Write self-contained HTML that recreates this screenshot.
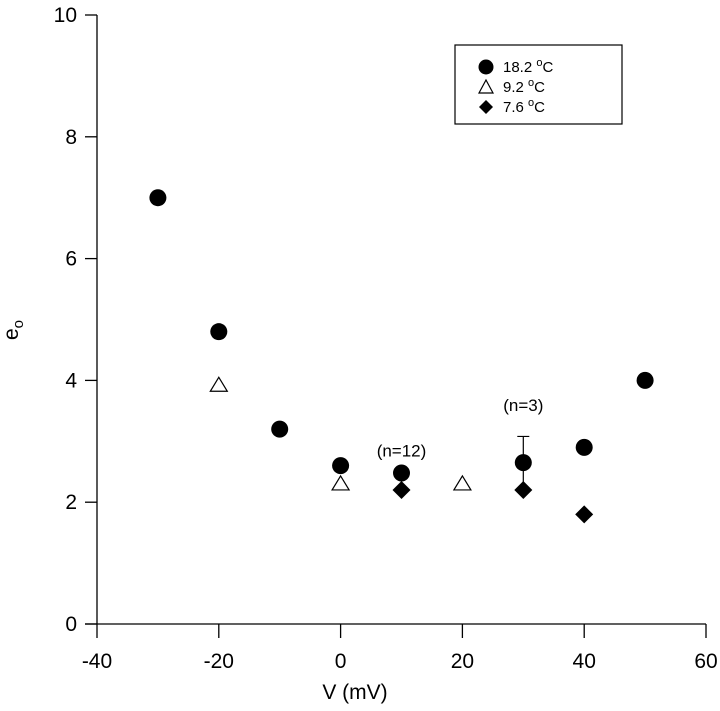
<!DOCTYPE html>
<html><head><meta charset="utf-8"><style>
body{margin:0;background:#fff}
svg{display:block;font-family:"Liberation Sans",Arial,sans-serif}
</style></head><body>
<svg id="chart" width="720" height="711" viewBox="0 0 720 711">
<g id="axes"></g><g id="marks"></g>
<g>
<rect x="455" y="45" width="167" height="79" fill="#fff" stroke="#000" stroke-width="1.2"/>
<g><circle cx="486" cy="67" r="7.5" fill="#000"/><text x="503" y="72" font-size="15">18.2 <tspan font-size="11" dy="-6">o</tspan><tspan dy="6">C</tspan></text></g>
<g><polygon points="486,80 493,93 479,93" fill="#fff" stroke="#000" stroke-width="1.2"/><text x="503" y="92" font-size="15">9.2 <tspan font-size="11" dy="-6">o</tspan><tspan dy="6">C</tspan></text></g>
<g><polygon points="486,100 493,107 486,114 479,107" fill="#000"/><text x="503" y="112" font-size="15">7.6 <tspan font-size="11" dy="-6">o</tspan><tspan dy="6">C</tspan></text></g>
</g>
<text x="355" y="699" font-size="21" text-anchor="middle">V (mV)</text>
<text x="18" y="330" font-size="21" text-anchor="middle" transform="rotate(-90 18 330)">e<tspan font-size="15" dy="5">o</tspan></text>
</svg>
<script>
const xTicks=[-40,-20,0,20,40,60];
const yTicks=[0,2,4,6,8,10];
const circX=[-30,-20,-10,0,10,30,40,50];
const circY=[7.0,4.8,3.2,2.6,2.48,2.65,2.9,4.0];
const triX=[-20,0,20];
const triY=[3.92,2.3,2.3];
const diaX=[10,30,40];
const diaY=[2.2,2.2,1.8];
const errX=[30];const errLo=[2.2];const errHi=[3.08];
const noteX=[10,30];const noteY=[2.75,3.5];const noteText=["(n=12)","(n=3)"];
const X0=97,X1=706,Y0=624,Y1=15;
const sx=v=>X0+(v+40)/100*(X1-X0);
const sy=v=>Y0-v/10*(Y0-Y1);
const NS="http://www.w3.org/2000/svg";
const axes=document.getElementById('axes'),marks=document.getElementById('marks');
function mk(tag,attrs,parent){const e=document.createElementNS(NS,tag);for(const k in attrs)e.setAttribute(k,attrs[k]);parent.appendChild(e);return e;}
let l=mk('line',{x1:X0,y1:Y1,x2:X0,y2:Y0,stroke:'#000','stroke-width':1.3},axes);


l=mk('line',{x1:X0-12,y1:Y0,x2:X1,y2:Y0,stroke:'#000','stroke-width':1.3},axes);


xTicks.forEach(t=>{const x=sx(t);
 const tk=mk('line',{x1:x,y1:Y0,x2:x,y2:Y0+14,stroke:'#000','stroke-width':1.3},axes);
 
 
 const tx=mk('text',{x:x,y:Y0+44,'font-size':21,'text-anchor':'middle'},axes);tx.textContent=t;
 
 });
yTicks.forEach(t=>{const y=sy(t);
 const tk=mk('line',{x1:X0-12,y1:y,x2:X0,y2:y,stroke:'#000','stroke-width':1.3},axes);
 
 
 const tx=mk('text',{x:X0-20,y:y+7,'font-size':21,'text-anchor':'end'},axes);tx.textContent=t;
 
 });
errX.forEach((v,i)=>{const x=sx(v);
 const e=mk('path',{d:`M${x},${sy(errLo[i])}V${sy(errHi[i])}M${x-6},${sy(errHi[i])}H${x+6}`,stroke:'#000','stroke-width':1.2,fill:'none'},marks);
 
 });
circX.forEach((v,i)=>{const c=mk('circle',{cx:sx(v),cy:sy(circY[i]),r:8.5,fill:'#000'},marks);
 
 });
triX.forEach((v,i)=>{const x=sx(v),y=sy(triY[i]);
 const p=mk('polygon',{points:`${x},${y-8} ${x+8.5},${y+6} ${x-8.5},${y+6}`,fill:'#fff',stroke:'#000','stroke-width':1.2},marks);
 
 });
diaX.forEach((v,i)=>{const x=sx(v),y=sy(diaY[i]);
 const p=mk('polygon',{points:`${x},${y-9} ${x+9},${y} ${x},${y+9} ${x-9},${y}`,fill:'#000'},marks);
 
 });
noteX.forEach((v,i)=>{const t=mk('text',{x:sx(v),y:sy(noteY[i]),'font-size':17,'text-anchor':'middle'},marks);t.textContent=noteText[i];
 
 });
</script>
</body></html>
